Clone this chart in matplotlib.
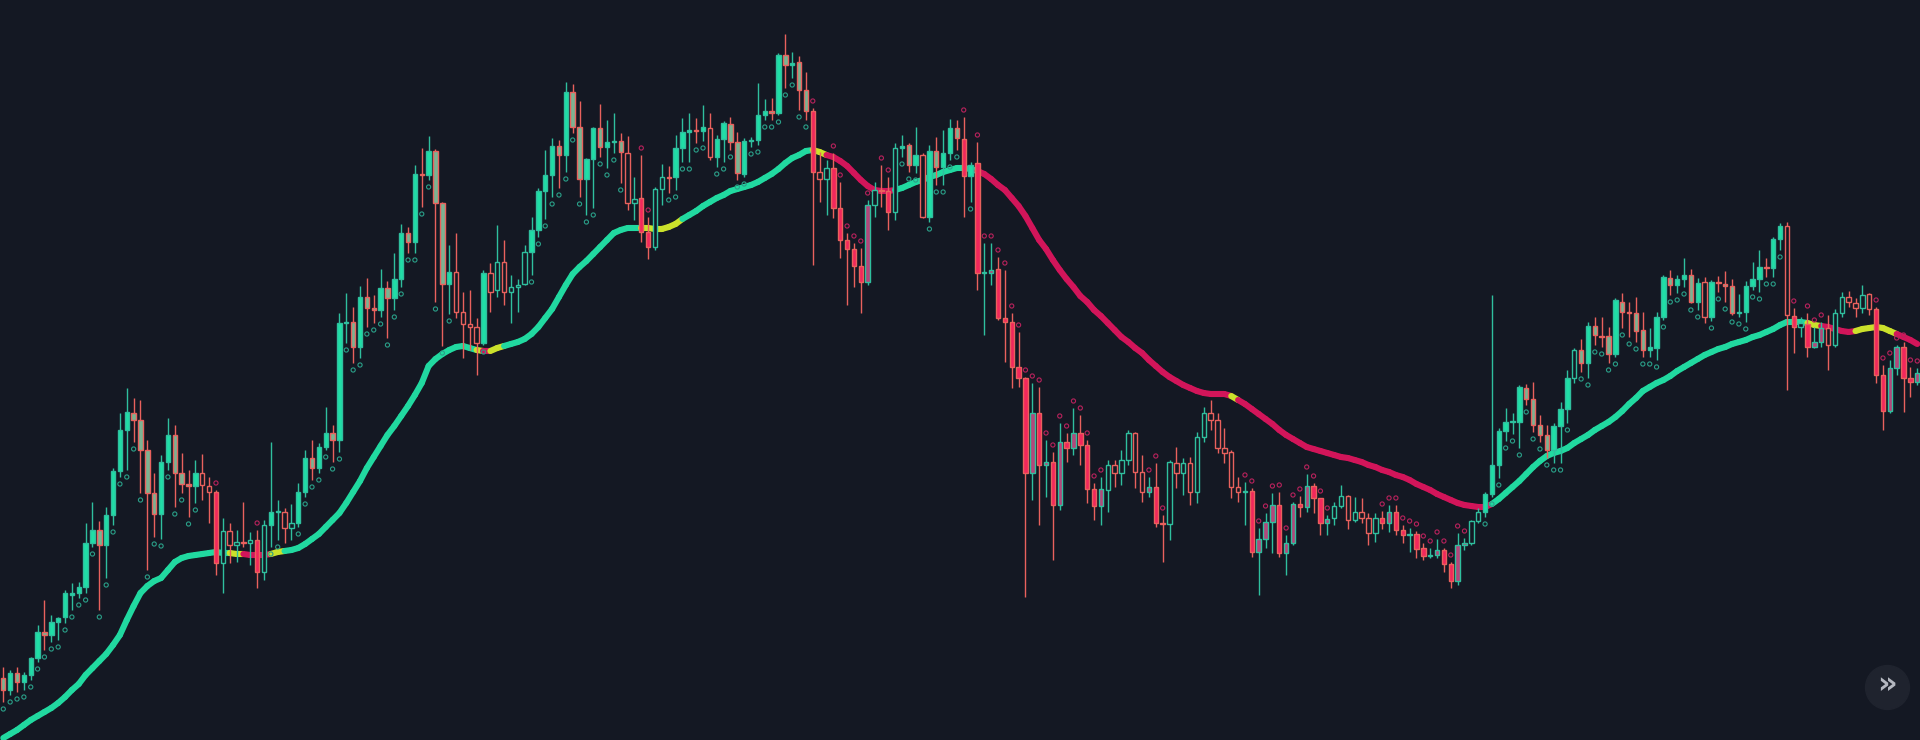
import numpy as np
import matplotlib
matplotlib.use("Agg")
import matplotlib.pyplot as plt
from matplotlib.collections import LineCollection

# ---------------- data ----------------
opens = [
    62, 50, 67, 58, 65, 82, 108, 105, 118, 123,
    145, 147, 153, 197, 210, 195, 225, 269, 310, 327,
    320, 290, 247, 226, 278, 305, 267, 256, 254, 267,
    254, 248, 177, 209, 195, 198, 197, 200, 168, 215,
    228, 228, 212, 217, 248, 282, 272, 293, 307, 300,
    417, 418, 393, 443, 432, 430, 452, 442, 461, 507,
    498, 566, 565, 589, 537, 456, 468, 428, 416, 413,
    397, 467, 450, 478, 448, 453, 456, 488, 510, 549,
    565, 594, 585, 648, 613, 561, 581, 612, 593, 598,
    599, 587, 537, 542, 508, 493, 551, 563, 563, 592,
    608, 610, 609, 612, 583, 601, 616, 598, 566, 599,
    600, 625, 629, 627, 685, 675, 678, 650, 629, 568,
    561, 572, 532, 500, 491, 474, 458, 535, 550, 549,
    528, 592, 595, 575, 585, 523, 589, 573, 587, 612,
    601, 564, 577, 467, 467, 471, 422, 418, 373, 362,
    267, 327, 275, 278, 235, 298, 292, 307, 295, 251,
    234, 250, 275, 267, 280, 307, 268, 248, 253, 217,
    216, 277, 267, 277, 248, 303, 327, 320, 292, 288,
    253, 248, 249, 188, 201, 218, 235, 187, 197, 236,
    233, 254, 242, 217, 222, 234, 244, 220, 228, 222,
    207, 222, 217, 228, 210, 205, 206, 192, 184, 185,
    190, 176, 159, 195, 197, 219, 228, 246, 275, 309,
    318, 318, 352, 341, 315, 305, 290, 314, 331, 362,
    390, 377, 414, 404, 404, 386, 438, 428, 427, 410,
    390, 392, 423, 462, 455, 461, 465, 438, 458, 423,
    458, 456, 454, 427, 428, 454, 461, 473, 472, 501,
    514, 424, 413, 416, 393, 398, 412, 395, 427, 443,
    437, 432, 446, 431, 365, 329, 372, 393, 362, 358,
]
highs = [
    73, 70, 73, 68, 83, 115, 140, 125, 123, 150,
    157, 158, 217, 238, 219, 233, 272, 327, 352, 342,
    340, 300, 267, 285, 322, 315, 287, 270, 280, 286,
    263, 250, 222, 217, 210, 238, 208, 210, 220, 298,
    240, 232, 236, 257, 290, 300, 297, 333, 315, 427,
    447, 433, 454, 462, 445, 471, 459, 487, 516, 513,
    575, 592, 604, 591, 538, 495, 507, 448, 450, 422,
    470, 477, 515, 500, 465, 461, 495, 523, 552, 590,
    602, 600, 658, 656, 639, 582, 613, 636, 620, 627,
    607, 604, 563, 585, 523, 553, 576, 574, 605, 622,
    627, 622, 635, 627, 605, 619, 623, 608, 602, 603,
    657, 641, 642, 687, 706, 688, 684, 668, 632, 588,
    580, 587, 558, 507, 497, 492, 540, 558, 575, 563,
    597, 605, 597, 613, 587, 595, 603, 610, 621, 620,
    623, 578, 598, 497, 497, 483, 470, 427, 408, 363,
    357, 353, 300, 288, 317, 307, 332, 325, 300, 257,
    263, 280, 280, 290, 310, 308, 285, 263, 277, 225,
    280, 293, 282, 283, 308, 333, 340, 327, 312, 290,
    263, 258, 252, 212, 227, 247, 248, 205, 238, 244,
    266, 257, 242, 225, 238, 255, 245, 243, 242, 227,
    227, 229, 235, 235, 215, 212, 209, 197, 192, 201,
    192, 178, 207, 202, 220, 232, 248, 445, 312, 332,
    327, 355, 356, 358, 325, 315, 317, 338, 370, 392,
    401, 418, 423, 423, 413, 442, 447, 438, 443, 428,
    412, 428, 465, 470, 465, 482, 471, 462, 463, 460,
    464, 469, 461, 446, 459, 478, 490, 482, 503, 517,
    518, 432, 423, 427, 413, 418, 425, 431, 448, 449,
    442, 455, 447, 433, 375, 380, 395, 398, 373, 372,
]
lows = [
    38, 45, 48, 50, 60, 78, 90, 98, 100, 117,
    130, 142, 147, 193, 130, 162, 215, 263, 270, 298,
    247, 170, 203, 201, 270, 233, 247, 223, 237, 240,
    217, 165, 147, 177, 178, 193, 175, 152, 160, 193,
    200, 197, 200, 213, 243, 260, 267, 290, 278, 288,
    397, 377, 382, 413, 417, 423, 402, 430, 453, 487,
    487, 533, 560, 438, 394, 426, 422, 382, 390, 365,
    395, 428, 443, 435, 417, 428, 455, 465, 503, 521,
    543, 552, 568, 607, 543, 525, 532, 583, 572, 587,
    557, 530, 520, 498, 481, 490, 535, 547, 550, 578,
    578, 597, 599, 580, 573, 578, 590, 560, 563, 593,
    595, 620, 620, 625, 652, 662, 630, 620, 475, 538,
    525, 522, 482, 435, 453, 427, 455, 523, 533, 510,
    520, 583, 568, 567, 522, 518, 555, 555, 580, 590,
    523, 538, 450, 405, 455, 420, 378, 352, 353, 143,
    240, 215, 243, 180, 230, 278, 285, 275, 237, 220,
    215, 228, 253, 255, 275, 252, 238, 243, 213, 178,
    200, 252, 245, 235, 237, 298, 310, 287, 277, 242,
    238, 215, 183, 145, 192, 187, 183, 165, 195, 223,
    228, 227, 205, 205, 215, 232, 211, 218, 217, 195,
    198, 211, 208, 205, 197, 188, 182, 180, 182, 182,
    168, 152, 155, 190, 195, 217, 223, 243, 262, 299,
    306, 292, 335, 308, 298, 282, 277, 277, 317, 357,
    368, 362, 395, 393, 377, 383, 412, 403, 398, 383,
    383, 380, 420, 445, 447, 453, 437, 430, 417, 419,
    448, 438, 425, 423, 418, 450, 448, 463, 463, 490,
    350, 387, 403, 383, 392, 393, 370, 393, 423, 433,
    423, 427, 425, 357, 310, 327, 365, 328, 343, 355,
]
closes = [
    50, 67, 58, 65, 82, 108, 105, 118, 122, 147,
    147, 153, 197, 210, 195, 225, 269, 310, 328, 320,
    290, 247, 226, 278, 305, 267, 256, 254, 267, 255,
    248, 177, 209, 195, 198, 197, 200, 168, 215, 228,
    229, 212, 217, 248, 282, 272, 293, 307, 300, 417,
    418, 393, 443, 432, 430, 452, 442, 461, 507, 498,
    566, 565, 589, 537, 456, 468, 428, 416, 413, 397,
    467, 448, 478, 448, 453, 455, 488, 510, 549, 565,
    594, 585, 648, 613, 561, 581, 612, 593, 598, 599,
    588, 537, 541, 508, 493, 551, 563, 562, 592, 608,
    610, 609, 613, 583, 601, 617, 598, 567, 599, 600,
    625, 629, 627, 685, 675, 677, 650, 629, 568, 561,
    572, 532, 500, 491, 474, 458, 535, 550, 549, 528,
    592, 594, 575, 585, 523, 589, 573, 587, 612, 602,
    564, 575, 467, 468, 470, 422, 418, 373, 362, 267,
    327, 275, 278, 235, 298, 292, 307, 295, 251, 234,
    251, 275, 267, 280, 307, 268, 248, 253, 217, 216,
    278, 267, 277, 248, 303, 327, 320, 292, 287, 253,
    248, 249, 188, 201, 218, 235, 187, 197, 236, 233,
    254, 242, 217, 221, 234, 244, 220, 228, 222, 207,
    222, 217, 228, 210, 205, 206, 191, 184, 185, 190,
    176, 159, 195, 197, 219, 228, 246, 275, 309, 318,
    319, 353, 341, 315, 305, 290, 314, 331, 362, 390,
    377, 414, 405, 403, 386, 440, 428, 427, 409, 390,
    393, 423, 463, 455, 461, 465, 438, 457, 423, 458,
    457, 454, 427, 428, 454, 461, 473, 472, 501, 514,
    425, 413, 417, 393, 398, 412, 395, 427, 443, 438,
    432, 445, 431, 365, 329, 372, 393, 362, 358, 367,
]
# trend moving average, one reading per candle
ma = [
    2, 6, 10, 15, 20, 24, 28, 32, 37, 43,
    50, 56, 65, 72, 79, 86, 95, 105, 120, 134,
    147, 154, 159, 162, 170, 178, 182, 184, 185, 186,
    187, 188, 187, 187, 186, 186, 185, 185, 185, 186,
    188, 189, 190, 192, 196, 201, 206, 213, 220, 227,
    237, 248, 259, 272, 283, 294, 305, 314, 324, 334,
    345, 357, 374, 381, 386, 390, 393, 394, 392, 390,
    389, 389, 392, 394, 396, 398, 401, 406, 413, 422,
    431, 443, 455, 466, 473, 479, 486, 493, 500, 507,
    510, 512, 512, 512, 512, 511, 511, 513, 516, 521,
    525, 529, 534, 538, 542, 545, 549, 551, 553, 555,
    558, 562, 566, 571, 577, 582, 585, 589, 590, 588,
    585, 583, 579, 574, 567, 560, 554, 550, 549, 549,
    550, 552, 555, 558, 560, 563, 565, 568, 570, 572,
    572, 571, 569, 566, 561, 555, 550, 542, 534, 524,
    512, 500, 491, 480, 470, 461, 453, 444, 438, 430,
    424, 417, 410, 403, 398, 392, 387, 380, 374, 368,
    363, 359, 355, 352, 349, 347, 346, 346, 346, 344,
    340, 336, 331, 326, 321, 316, 310, 305, 301, 297,
    293, 291, 289, 287, 285, 283, 282, 280, 278, 275,
    273, 270, 268, 265, 263, 260, 256, 253, 250, 246,
    243, 240, 237, 235, 234, 233, 233, 236, 241, 247,
    253, 259, 266, 273, 279, 284, 287, 289, 292, 297,
    301, 305, 310, 314, 318, 323, 329, 336, 342, 349,
    353, 357, 360, 364, 369, 373, 377, 381, 385, 388,
    391, 393, 396, 398, 400, 403, 405, 408, 411, 415,
    418, 418, 418, 417, 415, 414, 413, 411, 409, 408,
    409, 411, 412, 413, 412, 409, 406, 403, 400, 396,
]
# candle regime: u = uptrend, d = downtrend, n = neutral (hollow)
trend = (
    "uuuuuuuuuu" "uuuuuuuuuu" "uuuuuuuuun" "ndnnnnndnu" "unnuuuuuuu"
    "uuuuuuuuuu" "uuuuuunnnn" "unnnnnnuuu" "uuuuuuuuuu" "unnddnnuuu"
    "uuunuuuuuu" "uuuuuuuudn" "nddddddndd" "nuuunuuuuu" "dudddddddd"
    "dddddddddd" "dnnnnnnddd" "nnnnnnnnnn" "nddddddddd" "ddddnnnnnn"
    "nddddddddd" "ddddnnuuuu" "uuuuuuuuun" "uuuuuuuuuu" "uuuuuuuunu"
    "uuuuuuuuuu" "ndndddnnnn" "nnnddddddd"
)
# moving-average colour state: t = bullish, y = transition, p = bearish
ma_state = (
    "tttttttttt" "tttttttttt" "tttttttttt" "tttyyppppy" "yttttttttt"
    "tttttttttt" "ttttttttty" "pyyttttttt" "tttttttttt" "tttyyyyyyt"
    "tttttttttt" "ttttttttyy" "pppppppppp" "tttttttttt" "ttpppppppp"
    "pppppppppp" "pppppppppp" "pppppppppy" "pppppppppp" "pppppppppp"
    "pppppppppp" "pppppppttt" "tttttttttt" "tttttttttt" "tttttttttt"
    "tttttttttt" "tttyyppppp" "yyyyyypppp"
)

# ---------------- style ----------------
BG = "#141823"
UP_EDGE = "#2fbf9e"
DN_EDGE = "#e9615d"
TEAL_FILL = "#20dea6"
MUTED_GREEN = "#7ab392"
RED_FILL = "#f2275c"
MAUVE = "#b2477b"
MA_COLORS = {"t": "#21d9a0", "y": "#cbe12b", "p": "#d2155a"}
DOT_UP = "#2a9f88"
DOT_DN = "#b8225c"
DOT_GAP = 7

o = np.array(opens, float)
h = np.array(highs, float)
l = np.array(lows, float)
c = np.array(closes, float)
m = np.array(ma, float)
n = len(o)
x = np.arange(n)

fig = plt.figure(figsize=(19.2, 7.4), dpi=100, facecolor=BG)
ax = fig.add_axes([0, 0, 1, 1])
ax.set_facecolor(BG)
ax.set_xlim(-0.48, 279.4)
ax.set_ylim(0, 740)
ax.axis("off")

up = c >= o
edge = [UP_EDGE if u else DN_EDGE for u in up]
fills = []
for i in range(n):
    t = trend[i]
    if t == "u":
        fills.append(TEAL_FILL if up[i] else MUTED_GREEN)
    elif t == "d":
        fills.append(MAUVE if up[i] else RED_FILL)
    else:
        fills.append(BG)

# moving average (behind candles)
pts = np.column_stack([x, m])
segs = np.stack([pts[:-1], pts[1:]], axis=1)
lc = LineCollection(segs, colors=[MA_COLORS[s] for s in ma_state[:-1]],
                    linewidths=4.4, capstyle="round", joinstyle="round", zorder=2)
ax.add_collection(lc)

# wicks
ax.vlines(x, np.minimum(l, np.minimum(o, c)), np.maximum(h, np.maximum(o, c)),
          colors=edge, linewidth=1.0, zorder=3)
# bodies
bottom = np.minimum(o, c)
height = np.maximum(np.abs(c - o), 1.2)
ax.bar(x, height, bottom=bottom, width=0.64, color=fills, edgecolor=edge,
       linewidth=1.0, zorder=4)

# trailing dots
ui = np.array([i for i in range(n) if trend[i] == "u"])
di = np.array([i for i in range(n) if trend[i] == "d"])
ax.scatter(ui, l[ui] - DOT_GAP, s=9, facecolors="none", edgecolors=DOT_UP,
           linewidths=0.8, zorder=5)
ax.scatter(di, h[di] + DOT_GAP, s=9, facecolors="none", edgecolors=DOT_DN,
           linewidths=0.8, zorder=5)

# scroll button (bottom right)
bx, by = 1887 / 1920, 1 - 687 / 740
ax.scatter([bx], [by], s=1000, color="#1f232e", transform=ax.transAxes,
           zorder=6, clip_on=False)
ax.text(bx, by + 0.003, "\u00bb", transform=ax.transAxes, ha="center", va="center",
        fontsize=22, fontweight="bold", color="#b4b7c0", zorder=7)

fig.savefig("out.png", dpi=100, facecolor=BG)
